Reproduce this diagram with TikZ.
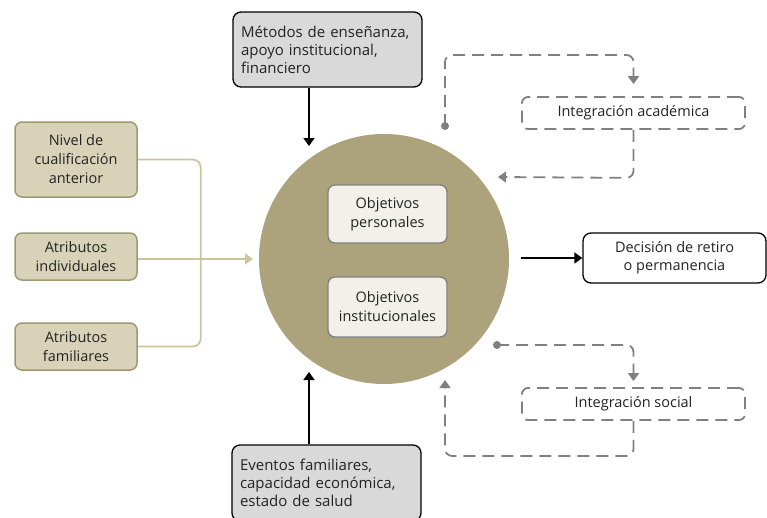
\documentclass[tikz,border=0pt]{standalone}
\usepackage{fontspec}
\setmainfont{Open Sans}
\usetikzlibrary{arrows.meta}
\definecolor{khaki}{RGB}{172,162,124}
\definecolor{tanfill}{RGB}{216,211,184}
\definecolor{tanline}{RGB}{160,151,115}
\definecolor{tanconn}{RGB}{205,196,160}
\definecolor{grayfill}{RGB}{217,217,217}
\definecolor{innerfill}{RGB}{242,240,233}
\definecolor{dashgray}{RGB}{128,128,128}
\definecolor{txt}{RGB}{35,35,35}
\tikzset{
  leftbox/.style={draw=tanline, fill=tanfill, line width=1.5pt, rounded corners=7pt, minimum width=122pt, align=center, text=txt, font=\fontsize{14.5}{19}\selectfont, inner sep=2pt},
  graybox/.style={draw=black, fill=grayfill, line width=1.3pt, rounded corners=8pt, minimum width=189pt, align=left, text=txt, font=\fontsize{15}{18}\selectfont, inner xsep=8pt, text width=173pt},
  innerbox/.style={draw=dashgray, fill=innerfill, line width=1.3pt, rounded corners=7pt, minimum width=119pt, align=center, text=txt, font=\fontsize{14.5}{19}\selectfont, inner sep=2pt},
  decbox/.style={draw=black, fill=white, line width=1.3pt, rounded corners=8pt, minimum width=183pt, minimum height=50pt, align=center, text=txt, font=\fontsize{14.5}{18}\selectfont, inner sep=2pt},
  integbox/.style={draw=dashgray, line width=1.8pt, dash pattern=on 12pt off 7pt, rounded corners=6pt, minimum width=223pt, minimum height=32pt, text=txt, font=\fontsize{14.5}{16}\selectfont},
  blackarrow/.style={draw=black, line width=1.5pt, -{Triangle[width=11pt,length=8pt]}},
  tanarrow/.style={draw=tanconn, line width=1.8pt, rounded corners=8pt},
  dasharrow/.style={draw=dashgray, line width=1.8pt, dash pattern=on 12pt off 7pt, rounded corners=7pt, -{Triangle[width=11pt,length=8pt]}},
  dotstyle/.style={circle, fill=dashgray, inner sep=0pt, minimum size=8pt}
}
\begin{document}
\begin{tikzpicture}[x=1pt,y=-1pt]
\useasboundingbox (0,0) rectangle (767,517);
% circle
\node[circle, fill=khaki, minimum size=250pt, inner sep=0pt] (circ) at (384,259) {};
\node[innerbox, minimum height=58pt] (pers) at (387.5,214) {Objetivos\\personales};
\node[innerbox, minimum height=60pt] (inst) at (387.5,307) {Objetivos\\institucionales};
% left boxes
\node[leftbox, minimum height=75pt] (nivel) at (76,159.5) {Nivel de\\cualificación\\anterior};
\node[leftbox, minimum height=47pt] (indiv) at (76,256.5) {Atributos\\individuales};
\node[leftbox, minimum height=47pt] (famil) at (76,346.5) {Atributos\\familiares};
% top and bottom boxes
\node[graybox, minimum height=75pt] (top) at (327.5,49.5) {Métodos de enseñanza,\\apoyo institucional,\\financiero};
\node[graybox, minimum height=76pt] (bot) at (326.5,483) {Eventos familiares,\\capacidad económica,\\estado de salud};
% decision
\node[decbox] (dec) at (674.5,258) {Decisión de retiro\\o permanencia};
% integration boxes
\node[integbox] (acad) at (633.5,113) {Integración académica};
\node[integbox] (soc) at (633.5,404) {Integración social};
% coordinates
\coordinate (toptip) at (309,146);
\coordinate (bottip) at (309,372);
\coordinate (lefttip) at (253,259);
\coordinate (adot) at (445,126);
\coordinate (atip) at (498,177);
\coordinate (sdot) at (497,345);
\coordinate (stip) at (445,380);
% left connector
\draw[tanarrow] (nivel.east) -- ++(63,0) |- (famil.east);
\draw[draw=tanconn, line width=1.8pt, -{Triangle[width=11pt,length=8pt]}] (indiv.east |- lefttip) -- (lefttip);
% black arrows
\draw[blackarrow] (top.south -| toptip) -- (toptip);
\draw[blackarrow] (bot.north -| bottip) -- (bottip);
\draw[blackarrow] (521,258) -- (dec.west);
% academic loop
\draw[dasharrow] (adot) -- (445,55) -| ([yshift=12pt]acad.north);
\draw[dasharrow] (acad.south) -- ++(0,48) -- (atip);
\node[dotstyle] (adotn) at (adot) {};
% social loop
\draw[dasharrow] (sdot) -| ([yshift=6pt]soc.north);
\draw[dasharrow] (soc.south) -- ++(0,35) -| (stip);
\node[dotstyle] (sdotn) at (sdot) {};
\end{tikzpicture}
\end{document}
